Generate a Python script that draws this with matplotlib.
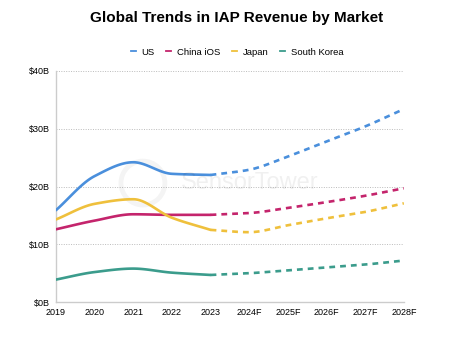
import numpy as np
import matplotlib
matplotlib.use("Agg")
import matplotlib.pyplot as plt
from matplotlib.lines import Line2D

plt.rcParams["font.family"] = ["Liberation Sans", "DejaVu Sans"]

# IAP revenue by market, $B (2019-2023 actual, 2024F-2028F forecast)
years = ["2019", "2020", "2021", "2022", "2023", "2024F", "2025F", "2026F", "2027F", "2028F"]
us = [15.9, 21.8, 24.2, 22.2, 22.0, 22.9, 25.2, 27.8, 30.4, 33.4]
china_ios = [12.6, 14.1, 15.2, 15.1, 15.1, 15.4, 16.3, 17.3, 18.4, 19.7]
japan = [14.3, 17.0, 17.8, 14.6, 12.5, 12.1, 13.3, 14.5, 15.6, 17.1]
south_korea = [3.9, 5.2, 5.8, 5.1, 4.7, 5.0, 5.5, 6.0, 6.5, 7.2]

series = [
    ("US", us, "#4a8fdc"),
    ("China iOS", china_ios, "#c4246c"),
    ("Japan", japan, "#efc03c"),
    ("South Korea", south_korea, "#3b9c8c"),
]
last_actual = 4  # index of 2023


def smooth(x, y, n=30):
    """Monotone cubic (Fritsch-Carlson) curve through the points, for drawing."""
    x = np.asarray(x, float)
    y = np.asarray(y, float)
    h = np.diff(x)
    d = np.diff(y) / h
    m = np.zeros_like(y)
    m[0], m[-1] = d[0], d[-1]
    for i in range(1, len(y) - 1):
        if d[i - 1] * d[i] > 0:
            w1 = 2 * h[i] + h[i - 1]
            w2 = h[i] + 2 * h[i - 1]
            m[i] = (w1 + w2) / (w1 / d[i - 1] + w2 / d[i])
    xs, ys = [], []
    for i in range(len(x) - 1):
        t = np.linspace(0, 1, n, endpoint=(i == len(x) - 2))
        h00 = 2 * t**3 - 3 * t**2 + 1
        h10 = t**3 - 2 * t**2 + t
        h01 = -2 * t**3 + 3 * t**2
        h11 = t**3 - t**2
        xs.append(x[i] + t * h[i])
        ys.append(h00 * y[i] + h10 * h[i] * m[i] + h01 * y[i + 1] + h11 * h[i] * m[i + 1])
    return np.concatenate(xs), np.concatenate(ys)


fig = plt.figure(figsize=(4.74, 3.41), dpi=100)
ax = fig.add_axes([0.118, 0.114, 0.734, 0.678])

idx = np.arange(len(years))
for name, vals, color in series:
    xa, ya = smooth(idx[: last_actual + 1], vals[: last_actual + 1])
    ax.plot(xa, ya, color=color, lw=1.9, solid_capstyle="round", zorder=3)
    xf, yf = smooth(idx[last_actual:], vals[last_actual:])
    ax.plot(xf, yf, color=color, lw=1.9, linestyle=(0, (2.2, 1.9)), zorder=3)

ax.set_xlim(0, len(years) - 1)
ax.set_ylim(0, 40)
ax.set_xticks(idx)
ax.set_xticklabels(years, fontsize=6.5)
ax.set_yticks([0, 10, 20, 30, 40])
ax.set_yticklabels(["$0B", "$10B", "$20B", "$30B", "$40B"], fontsize=6.5)
ax.tick_params(length=0, pad=4)
ax.grid(axis="y", color="#bbbbbb", linestyle=(0, (1, 1.5)), lw=0.7)
ax.set_axisbelow(True)
for side in ["top", "right"]:
    ax.spines[side].set_visible(False)
for side in ["left", "bottom"]:
    ax.spines[side].set_color("#cccccc")
    ax.spines[side].set_linewidth(1.0)

# faint watermark: logo ring + wordmark
ax.scatter([0.25], [0.515], s=1000, transform=ax.transAxes, facecolors="none",
           edgecolors="#000000", linewidths=3.5, alpha=0.045, zorder=1)
ax.text(0.557, 0.515, "SensorTower", transform=ax.transAxes, fontsize=17,
        color="#000000", alpha=0.06, ha="center", va="center")

fig.text(0.5, 0.948, "Global Trends in IAP Revenue by Market", ha="center", va="center",
         fontsize=11, fontweight="bold")

handles = [Line2D([0], [0], color=c, lw=1.3) for _, _, c in series]
fig.legend(handles, [n for n, _, _ in series], loc="center", bbox_to_anchor=(0.5, 0.847),
           ncol=4, frameon=False, fontsize=6.8, handlelength=0.55, handletextpad=0.6,
           columnspacing=1.2)

fig.savefig("out.png", dpi=100, facecolor="white")
